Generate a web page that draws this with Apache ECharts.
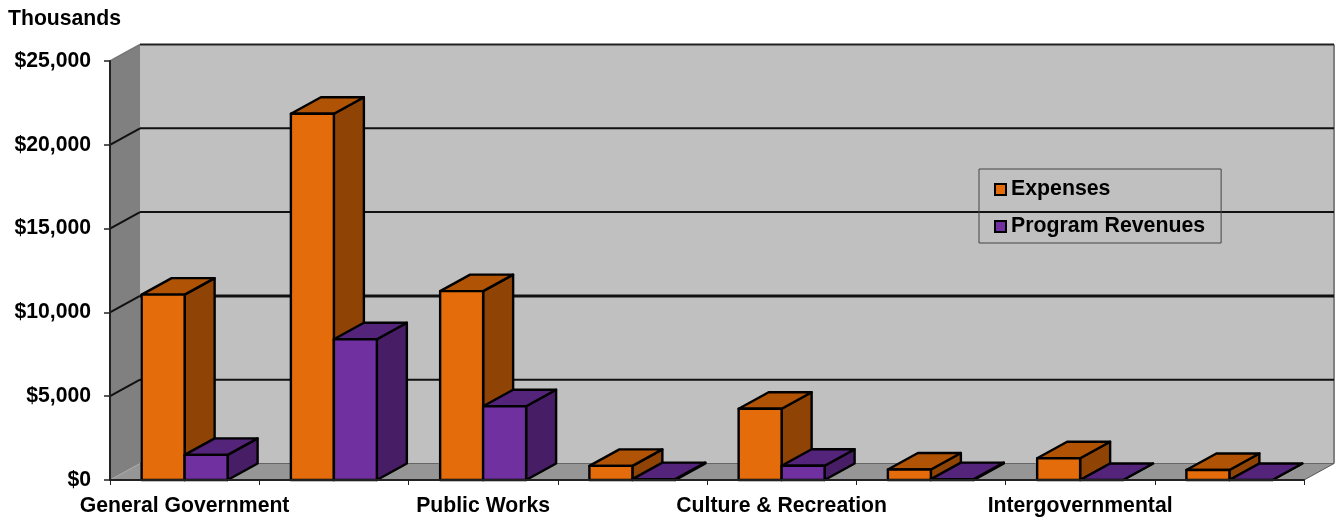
<!DOCTYPE html>
<html>
<head>
<meta charset="utf-8">
<style>html,body{margin:0;padding:0;background:#fff}#c{width:1338px;height:518px}</style>
<script src="https://cdn.jsdelivr.net/npm/echarts@6/dist/echarts.min.js"></script>
</head>
<body>
<div id="c"></div>
<script>
const categories = ['General Government','','Public Works','','Culture & Recreation','','Intergovernmental',''];
const expenses = [11060,21850,11270,840,4250,630,1300,600];
const programRevenues = [1500,8400,4400,50,850,50,0,0];
const yTicks = [0,5000,10000,15000,20000,25000];

const FONT = '"Liberation Sans", Arial, sans-serif';
const DX = 30, DY = 16.5;

function poly(points, fill, stroke, lw){
  return {type:'polygon', shape:{points}, style:{fill, stroke: stroke||null, lineWidth: lw||0, lineJoin:'round'}};
}
function line(x1,y1,x2,y2,stroke,lw){
  return {type:'line', shape:{x1,y1,x2,y2}, style:{stroke, lineWidth:lw, fill:null}};
}
function wallsItem(params, api){
  const v = api.value(1);
  const cs = params.coordSys;
  const y = api.coord([0, v])[1];
  const l = cs.x, r = cs.x + cs.width;
  const kids = [];
  if (v === 0) {
    const top = api.coord([0, yTicks[yTicks.length-1]])[1];
    kids.push(poly([[l+DX,top-DY],[r+DX,top-DY],[r+DX,y-DY],[l+DX,y-DY]], '#c0c0c0'));
    kids.push(poly([[l,top],[l+DX,top-DY],[l+DX,y-DY],[l,y]], '#808080'));
    kids.push(poly([[l,y],[l+DX,y-DY],[r+DX,y-DY],[r,y]], '#969696'));
    kids.push(line(r+DX,top-DY,r+DX,y-DY,'#808080',2));
    kids.push(line(l+DX,y-DY,r+DX,y-DY,'#666666',1));
    kids.push(line(r,y,r+DX,y-DY,'#555555',1));
    kids.push(line(l,y,l+DX,y-DY,'#a8a8a8',1));
  } else if (v === 25000) {
    kids.push(line(l+DX,y-DY,r+DX,y-DY,'#222222',2));
    kids.push(line(l,y,l+DX,y-DY,'#777777',1.5));
  } else {
    const w = v === 10000 ? 3 : 2;
    kids.push(line(l+DX,y-DY,r+DX,y-DY,'#111111',w));
    kids.push(line(l,y,l+DX,y-DY,'#111111',2));
  }
  return {type:'group', children:kids, silent:true};
}
function barItem(front, top, side, side2){
  return function(params, api){
    const i = api.value(0), v = api.value(1);
    const p = api.coord([i, v]), b = api.coord([i, 0]);
    const bw = api.size([1,0])[0] * 0.288;
    const x0 = side2 < 0 ? p[0] - bw : p[0];
    const x1 = x0 + bw;
    const t = p[1], z = b[1];
    const S = '#000000', LW = 2.4;
    return {type:'group', children:[
      poly([[x1,z],[x1+DX,z-DY],[x1+DX,t-DY],[x1,t]], side, S, LW),
      poly([[x0,t],[x0+DX,t-DY],[x1+DX,t-DY],[x1,t]], top, S, LW),
      poly([[x0,t],[x1,t],[x1,z],[x0,z]], front, S, v > 0 ? LW : 0.6)
    ]};
  };
}
const chart = echarts.init(document.getElementById('c'), null, {renderer:'canvas'});
chart.setOption({
  animation:false,
  backgroundColor:'#ffffff',
  title:{text:'Thousands', left:8, top:9, padding:0,
    textStyle:{fontFamily:FONT, fontWeight:'bold', fontSize:21.2, color:'#000'}},
  legend:{
    orient:'vertical', left:979, top:169, padding:[10,16,6,15],
    itemWidth:11, itemHeight:11, itemGap:16,
    borderColor:'#444444', borderWidth:1, backgroundColor:'transparent',
    data:[{name:'Expenses',icon:'rect'},{name:'Program Revenues',icon:'rect'}],
    itemStyle:{borderColor:'#000', borderWidth:2},
    textStyle:{fontFamily:FONT, fontWeight:'bold', fontSize:21.3, color:'#000'},
    selectedMode:false, z:10
  },
  grid:{left:110, right:34, top:61, bottom:38, containLabel:false},
  xAxis:{type:'category', data:categories, boundaryGap:true, z:6,
    axisLine:{show:true, onZero:false, lineStyle:{color:'#222', width:2}},
    axisTick:{show:true, alignWithLabel:false, interval:0, length:5, lineStyle:{color:'#222', width:1}},
    axisLabel:{interval:0, margin:16, fontFamily:FONT, fontWeight:'bold', fontSize:21.2, color:'#000', hideOverlap:false},
    splitLine:{show:false}
  },
  yAxis:{type:'value', min:0, max:25000, interval:5000, z:6,
    axisLine:{show:true, lineStyle:{color:'#222', width:2}},
    axisTick:{show:true, length:6, lineStyle:{color:'#222', width:1.5}},
    axisLabel:{margin:19, padding:[2,0,0,0], fontFamily:FONT, fontWeight:'bold', fontSize:21.2, color:'#000',
      formatter:v => '$' + v.toLocaleString('en-US')},
    splitLine:{show:false}
  },
  series:[
    {name:'walls', type:'custom', z:1, silent:true, coordinateSystem:'cartesian2d',
     renderItem:wallsItem, encode:{x:0,y:1}, data:yTicks.map(v=>[0,v])},
    {name:'Expenses', type:'custom', z:2, coordinateSystem:'cartesian2d',
     itemStyle:{color:'#e56c0a'},
     renderItem:barItem('#e56c0a','#b05305','#8f4405',-1), encode:{x:0,y:1},
     data:expenses.map((v,i)=>[i,v])},
    {name:'Program Revenues', type:'custom', z:3, coordinateSystem:'cartesian2d',
     itemStyle:{color:'#7030a0'},
     renderItem:barItem('#7030a0','#54237a','#471e66',1), encode:{x:0,y:1},
     data:programRevenues.map((v,i)=>[i,v])}
  ]
});
</script>
</body>
</html>
